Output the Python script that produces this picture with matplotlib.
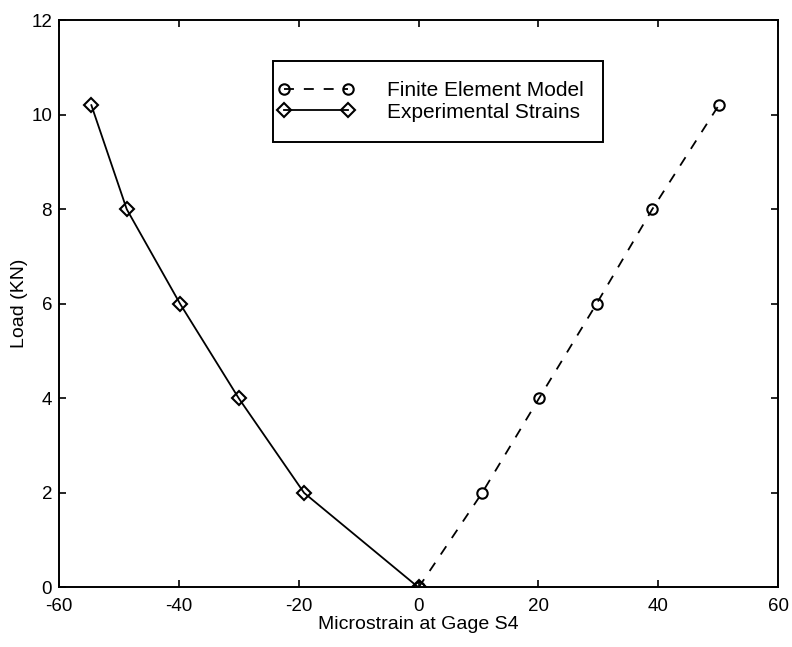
import matplotlib
matplotlib.use("Agg")
import matplotlib.pyplot as plt
from matplotlib.legend_handler import HandlerLine2D

plt.rcParams['font.family'] = ['Liberation Sans', 'DejaVu Sans']
plt.rcParams['axes.unicode_minus'] = False

# Finite element prediction (microstrain vs load)
fe_strain = [0, 10.6, 20.1, 29.7, 39.0, 50.1]
fe_load = [0, 2.0, 4.0, 6.0, 8.0, 10.2]

# Measured strains at gage S4
exp_strain = [-54.6, -48.7, -39.8, -30.0, -19.1, 0]
exp_load = [10.2, 8.0, 6.0, 4.0, 2.0, 0]

x_ticks = [-60, -40, -20, 0, 20, 40, 60]
y_ticks = [0, 2, 4, 6, 8, 10, 12]

fig = plt.figure(figsize=(7.92, 6.47), dpi=100)
ax = fig.add_axes([0.0745, 0.092, 0.908, 0.877])

fe_line, = ax.plot(fe_strain, fe_load, linestyle=(0, (5.5, 5.5)), color='black',
                   lw=1.3, marker='o', markersize=7.5, markerfacecolor='none',
                   markeredgewidth=1.5, label='Finite Element Model')
exp_line, = ax.plot(exp_strain, exp_load, linestyle='-', color='black', lw=1.3,
                    marker='D', markersize=7, markerfacecolor='none',
                    markeredgewidth=1.5, label='Experimental Strains')

ax.set_xlim(-60, 60)
ax.set_ylim(0, 12)
ax.set_xticks(x_ticks)
ax.set_yticks(y_ticks)
ax.tick_params(direction='in', length=5, width=1.2, top=True, right=True,
               labelsize=13.5)
ax.tick_params(axis='x', pad=7.5)
ax.tick_params(axis='y', pad=5)
for s in ax.spines.values():
    s.set_linewidth(1.4)

ax.set_xlabel('Microstrain at Gage S4', fontsize=14, labelpad=1)
ax.set_ylabel('Load (KN)', fontsize=14, labelpad=2)

handler = HandlerLine2D(marker_pad=-0.42, numpoints=2)
leg = ax.legend(handles=[fe_line, exp_line], loc='upper left',
                bbox_to_anchor=(0.297, 0.927), fontsize=15,
                handler_map={fe_line: handler, exp_line: handler},
                handlelength=2.23, handletextpad=2.3,
                borderpad=0.95, labelspacing=0.12, fancybox=False,
                framealpha=1, edgecolor='black', borderaxespad=0)
leg.get_frame().set_linewidth(1.4)

fig.savefig('out.png', dpi=100, facecolor='white')
